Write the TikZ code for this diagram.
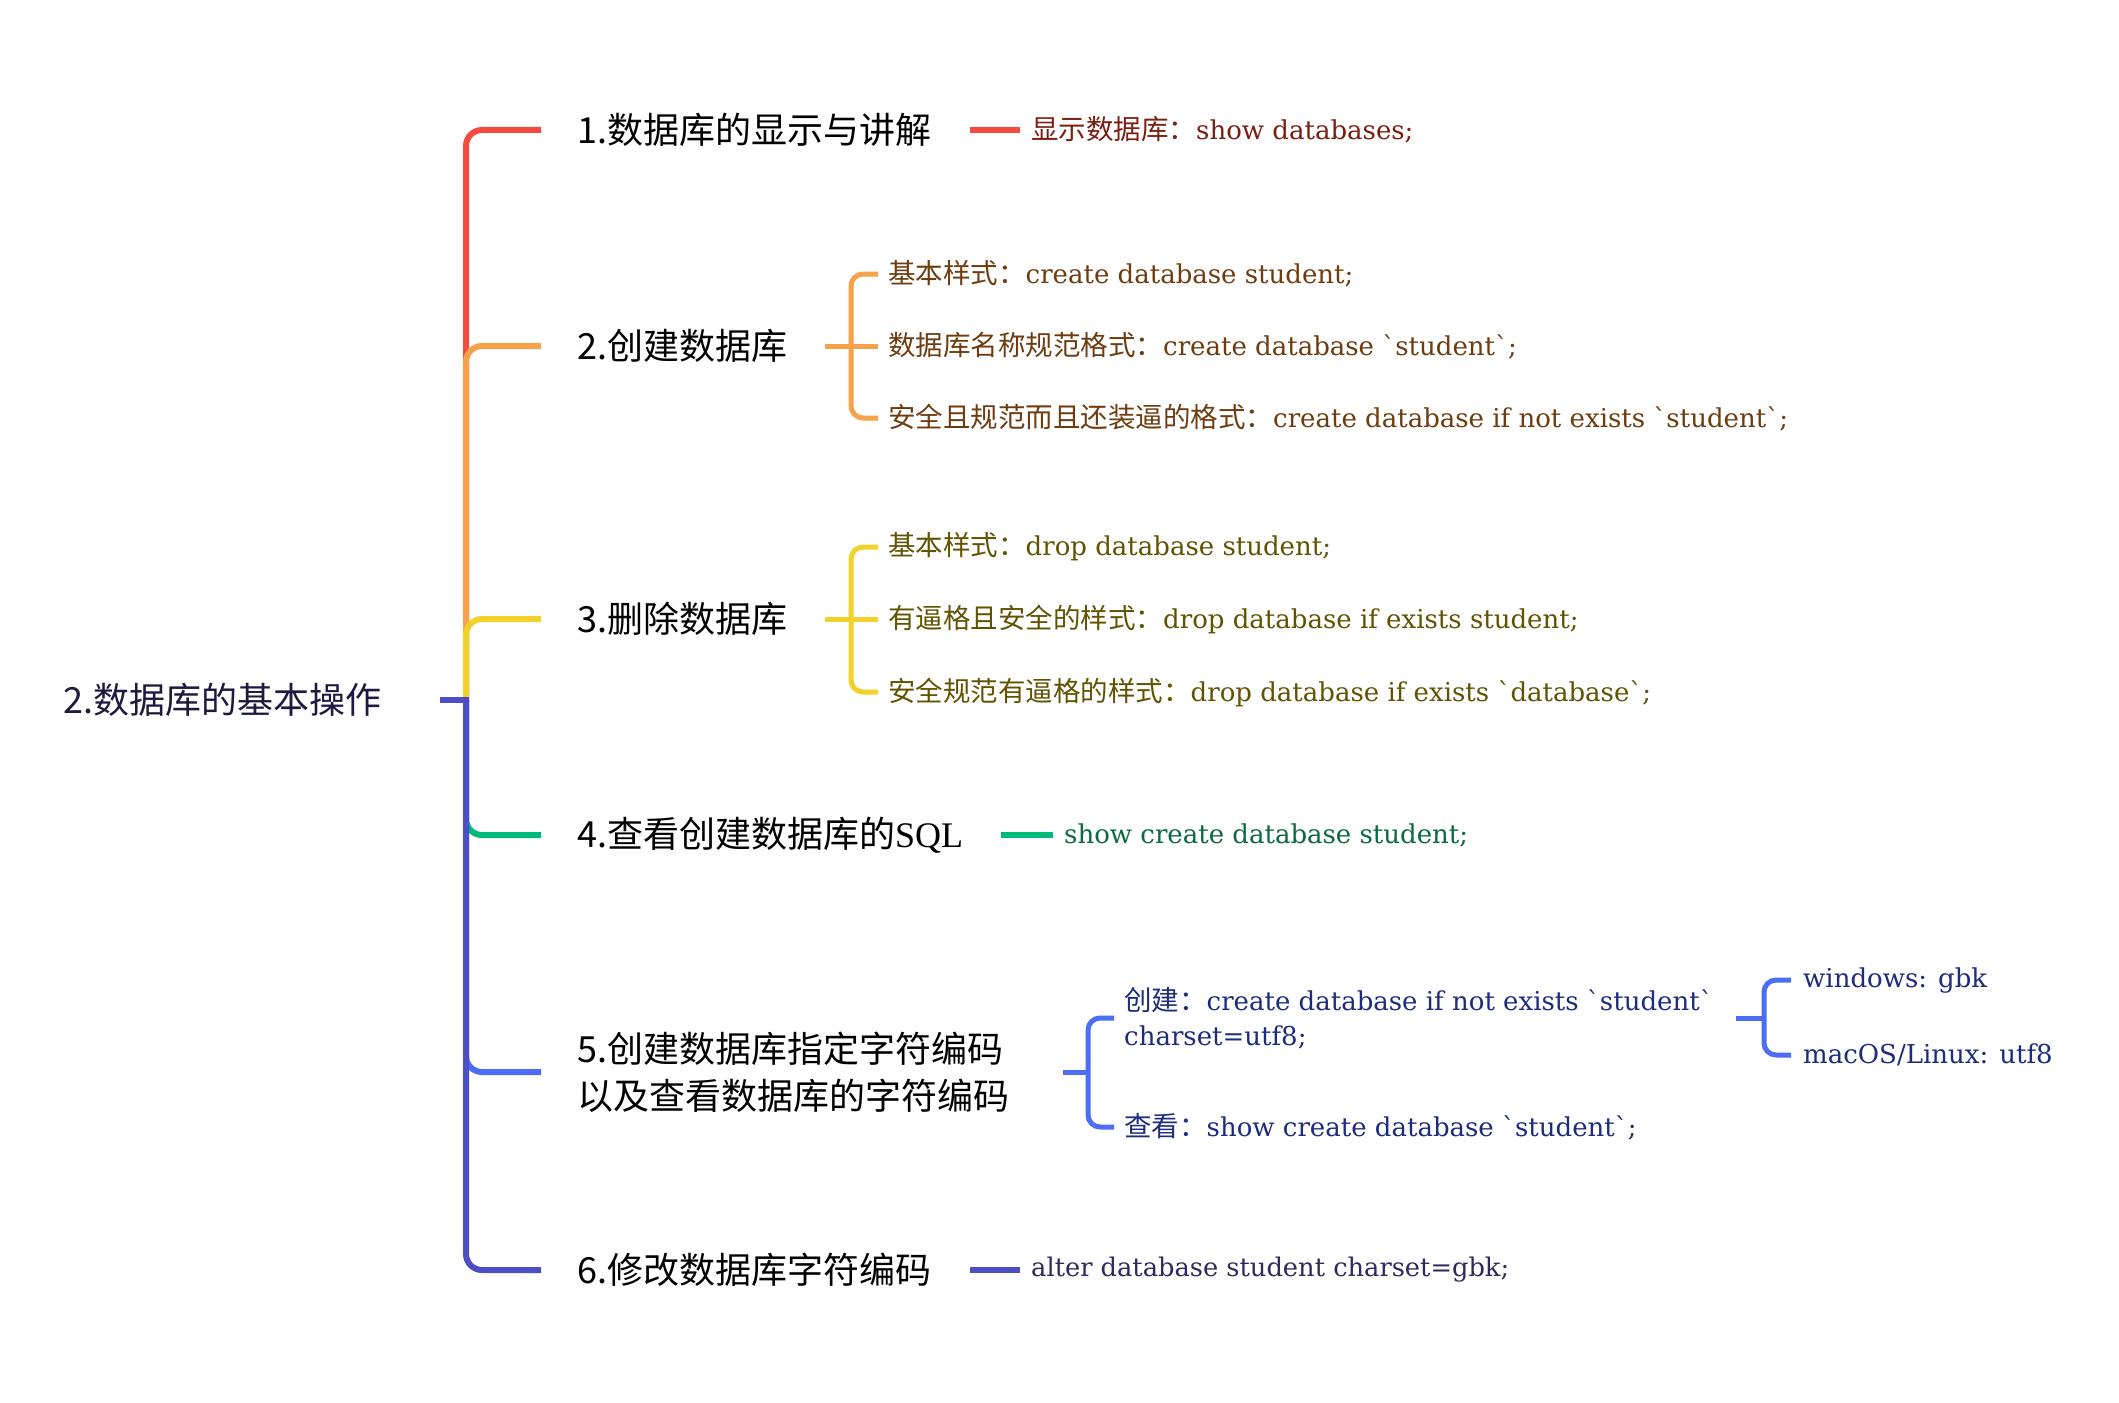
\documentclass[tikz,border=0pt]{standalone}
\usepackage{fontspec}
\setmainfont{Noto Sans CJK SC}
\newfontfamily\cjk{Noto Sans CJK SC}
\newfontfamily\serif{DejaVu Serif}[Ligatures=TeXOff]
\newfontfamily\tserif{Liberation Serif}
\definecolor{cRed}{HTML}{F44B3F}
\definecolor{cOrange}{HTML}{F7A14B}
\definecolor{cYellow}{HTML}{F3D12B}
\definecolor{cGreen}{HTML}{00BA7C}
\definecolor{cBlue}{HTML}{4B6EF5}
\definecolor{cIndigo}{HTML}{4D4DC4}
\definecolor{tRoot}{HTML}{1C1B3F}
\definecolor{tRed}{HTML}{7B1E10}
\definecolor{tOrange}{HTML}{6E3C0F}
\definecolor{tYellow}{HTML}{625300}
\definecolor{tGreen}{HTML}{0B6B3F}
\definecolor{tBlue}{HTML}{1D2C7D}
\definecolor{tIndigo}{HTML}{2D2B5E}
\newcommand\mixt[2]{{\cjk\fontsize{27.5}{35}\selectfont #1}{\serif #2}}
\begin{document}
\begin{tikzpicture}[x=1pt,y=-1pt,
  mainlbl/.style={anchor=west, inner sep=0pt, align=left, font=\cjk\fontsize{36}{47}\selectfont, text=black},
  leaf/.style={anchor=west, inner sep=0pt, align=left, font=\serif\fontsize{26}{35}\selectfont},
  brline/.style={line width=6pt, rounded corners=16pt},
  subline/.style={line width=5pt, rounded corners=12pt},
  stubline/.style={line width=6pt}]
\useasboundingbox[fill=white] (0,0) rectangle (2119,1402);
% nodes
\node[mainlbl, text=tRoot] (root) at (63,700) {2.数据库的基本操作};
\node[mainlbl] (b1) at (577,130) {1.数据库的显示与讲解};
\node[mainlbl] (b2) at (577,346) {2.创建数据库};
\node[mainlbl] (b3) at (577,619) {3.删除数据库};
\node[mainlbl] (b4) at (577,835) {4.查看创建数据库的{\tserif SQL}};
\node[mainlbl] (b5) at (577,1072) {5.创建数据库指定字符编码\\以及查看数据库的字符编码};
\node[mainlbl] (b6) at (577,1270) {6.修改数据库字符编码};
\node[leaf, text=tRed] (t1) at (1031,130) {\mixt{显示数据库：}{show databases;}};
\node[leaf, text=tOrange] (s21) at (888,274) {\mixt{基本样式：}{create database student;}};
\node[leaf, text=tOrange] (s22) at (888,346) {\mixt{数据库名称规范格式：}{create database `student`;}};
\node[leaf, text=tOrange] (s23) at (888,418) {\mixt{安全且规范而且还装逼的格式：}{create database if not exists `student`;}};
\node[leaf, text=tYellow] (s31) at (888,547) {\mixt{基本样式：}{drop database student;}};
\node[leaf, text=tYellow] (s32) at (888,619) {\mixt{有逼格且安全的样式：}{drop database if exists student;}};
\node[leaf, text=tYellow] (s33) at (888,692) {\mixt{安全规范有逼格的样式：}{drop database if exists `database`;}};
\node[leaf, text=tGreen] (t4) at (1064,835) {show create database student;};
\node[leaf, text=tBlue] (s51) at (1124,1018) {\mixt{创建：}{create database if not exists `student`}\\charset=utf8;};
\node[leaf, text=tBlue] (s52) at (1124,1127) {\mixt{查看：}{show create database `student`;}};
\node[leaf, text=tBlue] (s511) at (1803,980) {windows: gbk};
\node[leaf, text=tBlue] (s512) at (1803,1055) {macOS/Linux: utf8};
\node[leaf, text=tIndigo, font=\serif\fontsize{25.7}{35}\selectfont] (t6) at (1031,1270) {alter database student charset=gbk;};
% coordinates
\coordinate (hub) at (466,700);
\coordinate (rootout) at (440,700);
\coordinate (h2) at (851,346);
\coordinate (h3) at (851,619);
\coordinate (h5) at (1088,1072);
\coordinate (h51) at (1764,1018);
% trunk branches
\draw[brline, cRed] (hub) |- ([xshift=-36pt]b1.west);
\draw[brline, cOrange] (hub) |- ([xshift=-36pt]b2.west);
\draw[brline, cYellow] (hub) |- ([xshift=-36pt]b3.west);
\draw[brline, cGreen] (hub) |- ([xshift=-36pt]b4.west);
\draw[brline, cBlue] (hub) |- ([xshift=-36pt]b5.west);
\draw[brline, cIndigo] (hub) |- ([xshift=-36pt]b6.west);
\draw[stubline, cIndigo] (rootout) -- ([xshift=3pt]hub);
% single leaf stubs
\draw[stubline, cRed] ([xshift=39pt]b1.east) -- ([xshift=-11pt]t1.west);
\draw[stubline, cGreen] ([xshift=38pt]b4.east) -- ([xshift=-11pt]t4.west);
\draw[stubline, cIndigo] ([xshift=39pt]b6.east) -- ([xshift=-11pt]t6.west);
% sub brackets
\draw[subline, cOrange] ([xshift=38pt]b2.east) -- (h2);
\draw[subline, cOrange] (h2) |- ([xshift=-10pt]s21.west);
\draw[subline, cOrange] (h2) -- ([xshift=-10pt]s22.west);
\draw[subline, cOrange] (h2) |- ([xshift=-10pt]s23.west);
\draw[subline, cYellow] ([xshift=38pt]b3.east) -- (h3);
\draw[subline, cYellow] (h3) |- ([xshift=-10pt]s31.west);
\draw[subline, cYellow] (h3) -- ([xshift=-10pt]s32.west);
\draw[subline, cYellow] (h3) |- ([xshift=-10pt]s33.west);
\draw[subline, cBlue] ([xshift=54pt]b5.east) -- (h5);
\draw[subline, cBlue] (h5) |- ([xshift=-10pt]s51.west);
\draw[subline, cBlue] (h5) |- ([xshift=-10pt]s52.west);
\draw[subline, cBlue] ([xshift=23pt]s51.east) -- (h51);
\draw[subline, cBlue] (h51) |- ([xshift=-12pt]s511.west);
\draw[subline, cBlue] (h51) |- ([xshift=-12pt]s512.west);
\end{tikzpicture}
\end{document}
